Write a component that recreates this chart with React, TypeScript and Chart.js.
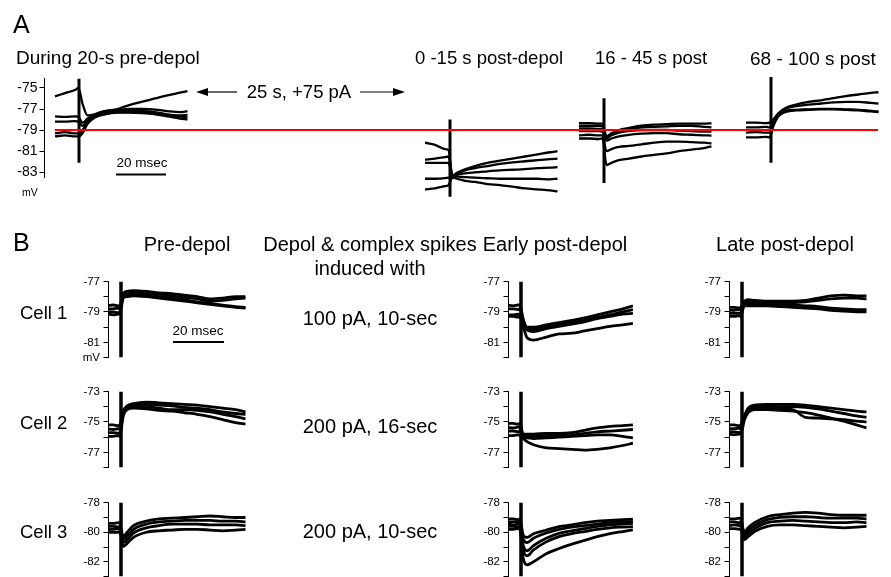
import React, { useEffect, useRef } from "react";
import { Chart, registerables } from "chart.js";
Chart.register(...registerables);

const FONT = '"Liberation Sans", Arial, Helvetica, sans-serif';

// ---------------- Panel A data (ms, mV) ----------------
const aTimes = [0, 4, 8, 9.4, 11, 13, 16, 20, 25, 30, 35, 40, 45, 50, 53];
const aPreTraces = [
  [-75.8, -75.5, -75.2, -75.0, -76.5, -77.6, -77.5, -77.2, -77.0, -76.6, -76.3, -76.0, -75.7, -75.45, -75.3],
  [-77.7, -77.75, -77.7, -77.75, -78.3, -77.9, -77.5, -77.2, -77.1, -77.0, -77.0, -77.05, -77.2, -77.3, -77.2],
  [-78.2, -78.2, -78.15, -78.2, -78.6, -78.0, -77.6, -77.3, -77.2, -77.15, -77.2, -77.3, -77.5, -77.6, -77.55],
  [-79.3, -79.2, -79.3, -79.3, -79.0, -78.2, -77.7, -77.4, -77.3, -77.3, -77.35, -77.45, -77.6, -77.7, -77.8],
  [-79.6, -79.5, -79.6, -79.6, -79.3, -78.4, -77.8, -77.5, -77.35, -77.35, -77.4, -77.5, -77.7, -77.9, -78.0],
];
const aEarlyTraces = [
  [-80.2, -80.4, -80.8, -80.9, -83.3, -83.0, -82.7, -82.4, -82.1, -81.9, -81.7, -81.5, -81.3, -81.1, -81.0],
  [-81.8, -81.7, -81.55, -81.5, -83.3, -83.1, -82.8, -82.6, -82.4, -82.2, -82.05, -81.95, -81.85, -81.75, -81.7],
  [-82.1, -82.1, -82.1, -82.1, -83.4, -83.2, -83.1, -83.0, -82.9, -82.8, -82.75, -82.7, -82.6, -82.55, -82.5],
  [-83.6, -83.6, -83.55, -83.5, -83.4, -83.4, -83.45, -83.5, -83.55, -83.6, -83.6, -83.6, -83.6, -83.65, -83.6],
  [-84.6, -84.5, -84.3, -84.2, -83.5, -83.6, -83.8, -83.9, -84.1, -84.2, -84.35, -84.5, -84.6, -84.7, -84.8],
];
const aMidTraces = [
  [-78.35, -78.35, -78.4, -78.4, -79.6, -79.3, -79.0, -78.8, -78.6, -78.5, -78.45, -78.4, -78.4, -78.4, -78.37],
  [-78.6, -78.6, -78.6, -78.65, -79.7, -79.4, -79.1, -78.9, -78.75, -78.7, -78.65, -78.6, -78.6, -78.7, -78.75],
  [-78.85, -78.85, -78.9, -78.9, -79.8, -79.5, -79.25, -79.1, -79.0, -79.0, -79.0, -79.05, -79.1, -79.15, -79.16],
  [-79.1, -79.1, -79.1, -79.15, -80.0, -79.8, -79.6, -79.45, -79.35, -79.3, -79.3, -79.4, -79.45, -79.5, -79.53],
  [-79.5, -79.45, -79.5, -79.5, -81.0, -80.8, -80.6, -80.5, -80.35, -80.2, -80.1, -80.1, -80.15, -80.2, -80.26],
  [-79.8, -79.8, -79.85, -79.8, -82.3, -82.1, -81.85, -81.7, -81.5, -81.35, -81.2, -81.0, -80.85, -80.7, -80.55],
];
const aLateTraces = [
  [-78.3, -78.3, -78.35, -78.3, -78.0, -77.4, -76.9, -76.6, -76.35, -76.2, -76.0, -75.8, -75.65, -75.5, -75.44],
  [-78.75, -78.75, -78.7, -78.75, -78.2, -77.5, -77.0, -76.75, -76.6, -76.5, -76.4, -76.35, -76.35, -76.45, -76.5],
  [-79.25, -79.2, -79.25, -79.25, -78.4, -77.6, -77.2, -77.1, -77.05, -77.0, -77.0, -77.05, -77.1, -77.2, -77.27],
  [-79.7, -79.7, -79.65, -79.7, -78.6, -77.7, -77.3, -77.15, -77.1, -77.05, -77.05, -77.1, -77.15, -77.25, -77.3],
];
const aTicks = [-83, -81, -79, -77, -75];
const aTickLabels = ["-83", "-81", "-79", "-77", "-75"];
const restingMv = -79;

// ---------------- Panel B data (ms, mV) ----------------
const bTimes = [0, 2, 4, 4.6, 6, 7.5, 10, 15, 20, 25, 30, 35, 40, 45, 50, 54];
const bEarlyTimes = [0, 2, 4, 4.6, 6, 7.5, 10, 15, 20, 25, 30, 35, 40, 45, 49];

const c1Pre = [
  [-78.6, -78.55, -78.6, -78.6, -77.8, -77.65, -77.6, -77.65, -77.75, -77.8, -77.9, -78.0, -78.15, -78.1, -78.0, -78.0],
  [-78.8, -78.8, -78.75, -78.8, -77.9, -77.8, -77.75, -77.8, -77.85, -77.95, -78.05, -78.15, -78.3, -78.25, -78.15, -78.1],
  [-79.0, -79.0, -79.05, -79.0, -78.0, -77.9, -77.85, -77.9, -78.0, -78.1, -78.2, -78.35, -78.45, -78.55, -78.65, -78.7],
  [-79.15, -79.2, -79.15, -79.15, -78.1, -78.0, -77.95, -78.0, -78.1, -78.2, -78.3, -78.4, -78.5, -78.6, -78.7, -78.75],
];
const c1Early = [
  [-78.55, -78.6, -78.55, -78.55, -79.5, -80.0, -80.0, -79.85, -79.7, -79.55, -79.4, -79.2, -79.0, -78.8, -78.6],
  [-78.8, -78.8, -78.85, -78.8, -79.6, -80.1, -80.15, -80.0, -79.85, -79.7, -79.55, -79.35, -79.2, -79.0, -78.85],
  [-79.2, -79.2, -79.15, -79.2, -79.7, -80.2, -80.3, -80.1, -79.95, -79.8, -79.65, -79.45, -79.3, -79.15, -79.1],
  [-79.3, -79.3, -79.35, -79.3, -80.0, -80.7, -80.85, -80.65, -80.45, -80.4, -80.25, -80.1, -79.95, -79.85, -79.76],
];
const c1Late = [
  [-78.7, -78.7, -78.75, -78.7, -78.3, -78.2, -78.25, -78.3, -78.3, -78.3, -78.25, -78.1, -77.95, -77.9, -77.95, -77.95],
  [-78.9, -78.9, -78.85, -78.9, -78.4, -78.35, -78.35, -78.4, -78.4, -78.4, -78.35, -78.25, -78.15, -78.1, -78.1, -78.15],
  [-79.1, -79.1, -79.1, -79.1, -78.5, -78.45, -78.45, -78.5, -78.5, -78.55, -78.6, -78.65, -78.75, -78.8, -78.85, -78.85],
  [-79.3, -79.3, -79.25, -79.3, -78.6, -78.6, -78.6, -78.6, -78.65, -78.7, -78.75, -78.8, -78.9, -78.95, -79.0, -79.0],
];
const c2Pre = [
  [-75.2, -75.2, -75.25, -75.2, -74.3, -73.95, -73.8, -73.7, -73.75, -73.8, -73.85, -73.9, -74.0, -74.1, -74.2, -74.35],
  [-75.45, -75.5, -75.45, -75.45, -74.4, -74.05, -73.9, -73.85, -73.9, -73.95, -74.05, -74.1, -74.2, -74.35, -74.45, -74.5],
  [-75.7, -75.7, -75.75, -75.7, -74.5, -74.1, -74.0, -74.0, -74.1, -74.2, -74.2, -74.25, -74.35, -74.5, -74.65, -74.8],
  [-75.95, -75.95, -75.9, -75.95, -74.6, -74.2, -74.1, -74.15, -74.25, -74.3, -74.4, -74.5, -74.65, -74.85, -75.05, -75.15],
];
const c2Early = [
  [-75.1, -75.1, -75.15, -75.1, -75.8, -75.8, -75.8, -75.75, -75.75, -75.7, -75.55, -75.4, -75.3, -75.25, -75.2],
  [-75.35, -75.4, -75.35, -75.35, -75.9, -75.9, -75.95, -75.9, -75.85, -75.85, -75.75, -75.65, -75.6, -75.55, -75.5],
  [-75.6, -75.6, -75.65, -75.6, -76.0, -76.05, -76.1, -76.05, -76.0, -75.95, -75.9, -75.85, -75.85, -75.95, -76.05],
  [-75.9, -75.9, -75.85, -75.9, -76.1, -76.3, -76.5, -76.7, -76.75, -76.8, -76.85, -76.8, -76.7, -76.55, -76.4],
];
const c2Late = [
  [-75.2, -75.2, -75.25, -75.2, -74.6, -74.1, -73.9, -73.85, -73.85, -73.85, -73.9, -74.0, -74.1, -74.2, -74.3, -74.35],
  [-75.45, -75.45, -75.4, -75.45, -74.7, -74.2, -74.0, -73.95, -74.0, -74.0, -74.05, -74.15, -74.3, -74.45, -74.6, -74.7],
  [-75.65, -75.65, -75.7, -75.65, -74.8, -74.3, -74.1, -74.1, -74.15, -74.2, -74.7, -74.75, -74.8, -74.85, -74.95, -75.0],
  [-75.8, -75.85, -75.8, -75.8, -74.9, -74.4, -74.2, -74.2, -74.25, -74.3, -74.4, -74.55, -74.75, -74.95, -75.2, -75.4],
];
const c3Pre = [
  [-79.4, -79.4, -79.35, -79.4, -80.3, -80.0, -79.55, -79.25, -79.1, -79.05, -79.0, -78.95, -78.9, -78.95, -79.0, -79.0],
  [-79.6, -79.6, -79.65, -79.6, -80.5, -80.25, -79.8, -79.45, -79.3, -79.25, -79.2, -79.2, -79.2, -79.25, -79.25, -79.3],
  [-79.8, -79.8, -79.75, -79.8, -80.7, -80.5, -80.05, -79.7, -79.55, -79.45, -79.45, -79.45, -79.5, -79.5, -79.5, -79.55],
  [-80.0, -80.0, -80.0, -79.95, -80.95, -80.75, -80.35, -80.0, -79.9, -79.85, -79.8, -79.8, -79.85, -79.9, -79.85, -79.8],
];
const c3Early = [
  [-79.1, -79.1, -79.15, -79.1, -80.2, -80.35, -80.1, -79.85, -79.62, -79.5, -79.35, -79.25, -79.2, -79.15, -79.12],
  [-79.3, -79.3, -79.3, -79.25, -80.5, -80.7, -80.4, -80.05, -79.8, -79.65, -79.55, -79.45, -79.35, -79.3, -79.28],
  [-79.45, -79.5, -79.45, -79.45, -80.9, -81.25, -80.9, -80.4, -80.07, -79.9, -79.75, -79.6, -79.5, -79.45, -79.4],
  [-79.6, -79.6, -79.65, -79.6, -81.2, -81.6, -81.2, -80.65, -80.3, -80.1, -79.95, -79.8, -79.7, -79.65, -79.62],
  [-79.8, -79.8, -79.75, -79.8, -81.8, -82.2, -82.0, -81.45, -81.1, -80.8, -80.55, -80.3, -80.1, -79.95, -79.84],
];
const c3Late = [
  [-79.1, -79.1, -79.05, -79.1, -80.0, -79.7, -79.35, -78.95, -78.8, -78.7, -78.65, -78.7, -78.8, -78.85, -78.85, -78.85],
  [-79.3, -79.3, -79.35, -79.3, -80.2, -79.9, -79.55, -79.15, -79.0, -78.95, -78.95, -79.0, -79.05, -79.05, -79.05, -79.1],
  [-79.55, -79.5, -79.55, -79.55, -80.35, -80.1, -79.75, -79.35, -79.25, -79.2, -79.25, -79.3, -79.35, -79.35, -79.3, -79.35],
  [-79.75, -79.75, -79.8, -79.75, -80.5, -80.3, -79.95, -79.6, -79.5, -79.5, -79.55, -79.6, -79.65, -79.7, -79.65, -79.6],
];
const c1Ticks = [-82, -81, -80, -79, -78, -77];
const c1TickLabels = ["", "-81", "", "-79", "", "-77"];
const c1TickLabelsMv = ["mV", "-81", "", "-79", "", "-77"];
const c2Ticks = [-78, -77, -76, -75, -74, -73];
const c2TickLabels = ["", "-77", "", "-75", "", "-73"];
const c3Ticks = [-83, -82, -81, -80, -79, -78];
const c3TickLabels = ["", "-82", "", "-80", "", "-78"];

// ---------------- chart machinery ----------------
type Axis = { ticks: number[]; labels: string[]; fontSize: number; tickLength: number; padding: number };
type Spec = {
  originX: number; pxPerMs: number; xMin: number; xMax: number;
  refY: number; refV: number; pxPerMV: number; yMin: number; yMax: number;
  times: number[]; traces: number[][];
  color?: string; lineWidth?: number;
  artifact?: { t: number; top: number; bottom: number; width: number };
  scaleBar?: { t0: number; len: number; v: number };
  axis?: Axis; z?: number;
};

const AXW = 40;
const PAD = 10;

function geom(s: Spec) {
  const axisW = s.axis ? AXW : 0;
  const chartLeft = s.originX + s.xMin * s.pxPerMs;
  const chartW = (s.xMax - s.xMin) * s.pxPerMs;
  const chartTop = s.refY - (s.yMax - s.refV) * s.pxPerMV;
  const chartH = (s.yMax - s.yMin) * s.pxPerMV;
  const left = Math.floor(chartLeft - axisW - 2);
  const top = Math.floor(chartTop - PAD);
  const padL = chartLeft - axisW - left;
  const padT = chartTop - top;
  const w = Math.ceil(padL + axisW + chartW + 4);
  const h = Math.ceil(padT + chartH + PAD);
  return { left, top, w, h, padL, padT, padR: w - padL - axisW - chartW, padB: h - padT - chartH };
}

function TraceChart({ spec }: { spec: Spec }) {
  const ref = useRef<HTMLCanvasElement | null>(null);
  const g = geom(spec);
  useEffect(() => {
    const s = spec;
    const datasets: any[] = s.traces.map((tr) => ({
      data: s.times.map((t, i) => ({ x: t, y: tr[i] })),
      borderColor: s.color ?? "#000",
      borderWidth: s.lineWidth ?? 2,
      pointRadius: 0,
      fill: false,
      cubicInterpolationMode: "monotone",
      borderJoinStyle: "round",
    }));
    if (s.artifact) {
      const a = s.artifact;
      datasets.push({
        data: [{ x: a.t, y: a.top }, { x: a.t, y: a.bottom }],
        borderColor: "#000", borderWidth: a.width, pointRadius: 0, tension: 0,
      });
    }
    if (s.scaleBar) {
      const b = s.scaleBar;
      datasets.push({
        data: [{ x: b.t0, y: b.v }, { x: b.t0 + b.len, y: b.v }],
        borderColor: "#000", borderWidth: 2, pointRadius: 0, tension: 0,
      });
    }
    const ax = s.axis;
    const chart = new Chart(ref.current as HTMLCanvasElement, {
      type: "line",
      data: { datasets },
      options: {
        responsive: false,
        animation: false,
        events: [],
        layout: { padding: { left: g.padL, top: g.padT, right: g.padR, bottom: g.padB } },
        plugins: { legend: { display: false }, tooltip: { enabled: false } },
        scales: {
          x: { type: "linear", min: s.xMin, max: s.xMax, display: false },
          y: {
            type: "linear",
            min: s.yMin,
            max: s.yMax,
            bounds: "data",
            display: !!ax,
            afterFit: (sc: any) => { sc.width = ax ? AXW : 0; },
            afterBuildTicks: (sc: any) => {
              if (ax) sc.ticks = ax.ticks.map((v) => ({ value: v }));
            },
            ticks: {
              autoSkip: false,
              maxRotation: 0,
              color: "#000",
              padding: ax ? ax.padding : 2,
              font: { family: FONT, size: ax ? ax.fontSize : 10 },
              callback: (v: any) => {
                if (!ax) return "";
                const i = ax.ticks.indexOf(Number(v));
                return i >= 0 ? ax.labels[i] : "";
              },
            },
            grid: {
              display: true,
              drawOnChartArea: false,
              drawTicks: true,
              tickLength: ax ? ax.tickLength : 4,
              color: "#000",
              lineWidth: 1,
            },
            border: { display: true, color: "#000", width: 1 },
          },
        },
      } as any,
    });
    return () => chart.destroy();
  }, [spec]);
  return (
    <div style={{ position: "absolute", left: g.left, top: g.top, width: g.w, height: g.h, zIndex: spec.z ?? 1 }}>
      <canvas ref={ref} width={g.w} height={g.h} style={{ display: "block", width: g.w, height: g.h }} />
    </div>
  );
}

function Txt({ x, y, size, center, children }: { x: number; y: number; size: number; center?: boolean; children: any }) {
  return (
    <div
      style={{
        position: "absolute", left: x, top: y, fontSize: size, lineHeight: 1, whiteSpace: "nowrap",
        transform: center ? "translate(-50%, -50%)" : "translateY(-50%)", zIndex: 10,
      }}
    >
      {children}
    </div>
  );
}

// ---------------- layout ----------------
const A = { pxPerMs: 2.5, pxPerMV: 10.6, refY: 130, refV: -79 };
const aAxis: Axis = { ticks: aTicks, labels: aTickLabels, fontSize: 14, tickLength: 4.5, padding: 2 };

const aSpecs: Spec[] = [
  { ...A, originX: 55, xMin: -4.4, xMax: 54, yMin: -83.5, yMax: -74.1, times: aTimes, traces: aPreTraces, lineWidth: 2.3,
    artifact: { t: 9.6, top: -74.1, bottom: -82.1, width: 3 }, scaleBar: { t0: 24.4, len: 20, v: -83.2 }, axis: aAxis },
  { ...A, originX: 425, xMin: 0, xMax: 54, yMin: -86, yMax: -73, times: aTimes, traces: aEarlyTraces, lineWidth: 2.3,
    artifact: { t: 10, top: -78.0, bottom: -85.3, width: 3 } },
  { ...A, originX: 579, xMin: 0, xMax: 54, yMin: -86, yMax: -73, times: aTimes, traces: aMidTraces, lineWidth: 2.3,
    artifact: { t: 10, top: -76.0, bottom: -84.0, width: 3 } },
  { ...A, originX: 746, xMin: 0, xMax: 54, yMin: -86, yMax: -73, times: aTimes, traces: aLateTraces, lineWidth: 2.3,
    artifact: { t: 10, top: -74.0, bottom: -82.1, width: 3 } },
];
const redSpanPx = [55, 878];
const redSpec: Spec = {
  ...A, originX: redSpanPx[0], pxPerMs: redSpanPx[1] - redSpanPx[0], xMin: 0, xMax: 1,
  yMin: -80, yMax: -78, times: [0, 1], traces: [[restingMv, restingMv]], color: "#ff0000", lineWidth: 2, z: 5,
};

const bRows = [
  { refV: -77, refY: 281, pxPerMV: 15.33, yMin: -82, yMax: -77, ticks: c1Ticks, labels: c1TickLabels, art: [-77, -82] },
  { refV: -73, refY: 391, pxPerMV: 15.33, yMin: -78, yMax: -73, ticks: c2Ticks, labels: c2TickLabels, art: [-73, -78] },
  { refV: -78, refY: 502.7, pxPerMV: 14.8, yMin: -83, yMax: -78, ticks: c3Ticks, labels: c3TickLabels, art: [-77.9, -83] },
];
const bCols = [108, 508, 729];
const bTraceSets = [
  [c1Pre, c1Early, c1Late],
  [c2Pre, c2Early, c2Late],
  [c3Pre, c3Early, c3Late],
];

const bSpecs: Spec[] = [];
bRows.forEach((r, ri) => {
  bCols.forEach((ox, ci) => {
    const times = ci === 1 ? bEarlyTimes : bTimes;
    const labels = ri === 0 && ci === 0 ? c1TickLabelsMv : r.labels;
    bSpecs.push({
      originX: ox, pxPerMs: 2.55, xMin: 0, xMax: times[times.length - 1],
      refY: r.refY, refV: r.refV, pxPerMV: r.pxPerMV, yMin: r.yMin, yMax: r.yMax,
      times, traces: bTraceSets[ri][ci], lineWidth: 2.8,
      artifact: { t: 5.1, top: r.art[0], bottom: r.art[1], width: 3.5 },
      scaleBar: ri === 0 && ci === 0 ? { t0: 25.5, len: 20, v: -80.98 } : undefined,
      axis: { ticks: r.ticks, labels, fontSize: 11.5, tickLength: 4.5, padding: 3.5 },
    });
  });
});

export default function App() {
  const T = 19;
  const TB = 20;
  return (
    <div
      style={{
        position: "fixed", left: 0, top: 0, width: 891, height: 577, background: "#fff",
        overflow: "hidden", fontFamily: FONT, color: "#000",
      }}
    >
      {aSpecs.map((s, i) => <TraceChart key={"a" + i} spec={s} />)}
      <TraceChart spec={redSpec} />
      {bSpecs.map((s, i) => <TraceChart key={"b" + i} spec={s} />)}

      <svg width={891} height={577} style={{ position: "absolute", left: 0, top: 0, zIndex: 9 }}>
        <line x1={205} y1={92} x2={237} y2={92} stroke="#000" strokeWidth={1.2} />
        <polygon points="196,92 208,88 208,96" fill="#000" />
        <line x1={360} y1={92} x2={396} y2={92} stroke="#000" strokeWidth={1.2} />
        <polygon points="405,92 393,88 393,96" fill="#000" />
      </svg>

      <Txt x={13} y={24} size={25}>A</Txt>
      <Txt x={16} y={57} size={T}>During 20-s pre-depol</Txt>
      <Txt x={415} y={58} size={18.5}>0 -15 s post-depol</Txt>
      <Txt x={595} y={58} size={18.5}>16 - 45 s post</Txt>
      <Txt x={750} y={58} size={T}>68 - 100 s post</Txt>
      <Txt x={299} y={92} size={18.5} center>25 s, +75 pA</Txt>
      <Txt x={22} y={192} size={10.5}>mV</Txt>
      <Txt x={142} y={163} size={13.5} center>20 msec</Txt>

      <Txt x={13} y={242} size={25}>B</Txt>
      <Txt x={187} y={244} size={TB} center>Pre-depol</Txt>
      <Txt x={370} y={244} size={TB} center>Depol &amp; complex spikes</Txt>
      <Txt x={370} y={268} size={TB} center>induced with</Txt>
      <Txt x={555} y={244} size={TB} center>Early post-depol</Txt>
      <Txt x={785} y={244} size={TB} center>Late post-depol</Txt>
      <Txt x={20} y={313} size={18.5}>Cell 1</Txt>
      <Txt x={20} y={423} size={18.5}>Cell 2</Txt>
      <Txt x={20} y={532} size={18.5}>Cell 3</Txt>
      <Txt x={370} y={318} size={TB} center>100 pA, 10-sec</Txt>
      <Txt x={370} y={426} size={TB} center>200 pA, 16-sec</Txt>
      <Txt x={370} y={531} size={TB} center>200 pA, 10-sec</Txt>
      <Txt x={198} y={331} size={13.5} center>20 msec</Txt>
    </div>
  );
}
